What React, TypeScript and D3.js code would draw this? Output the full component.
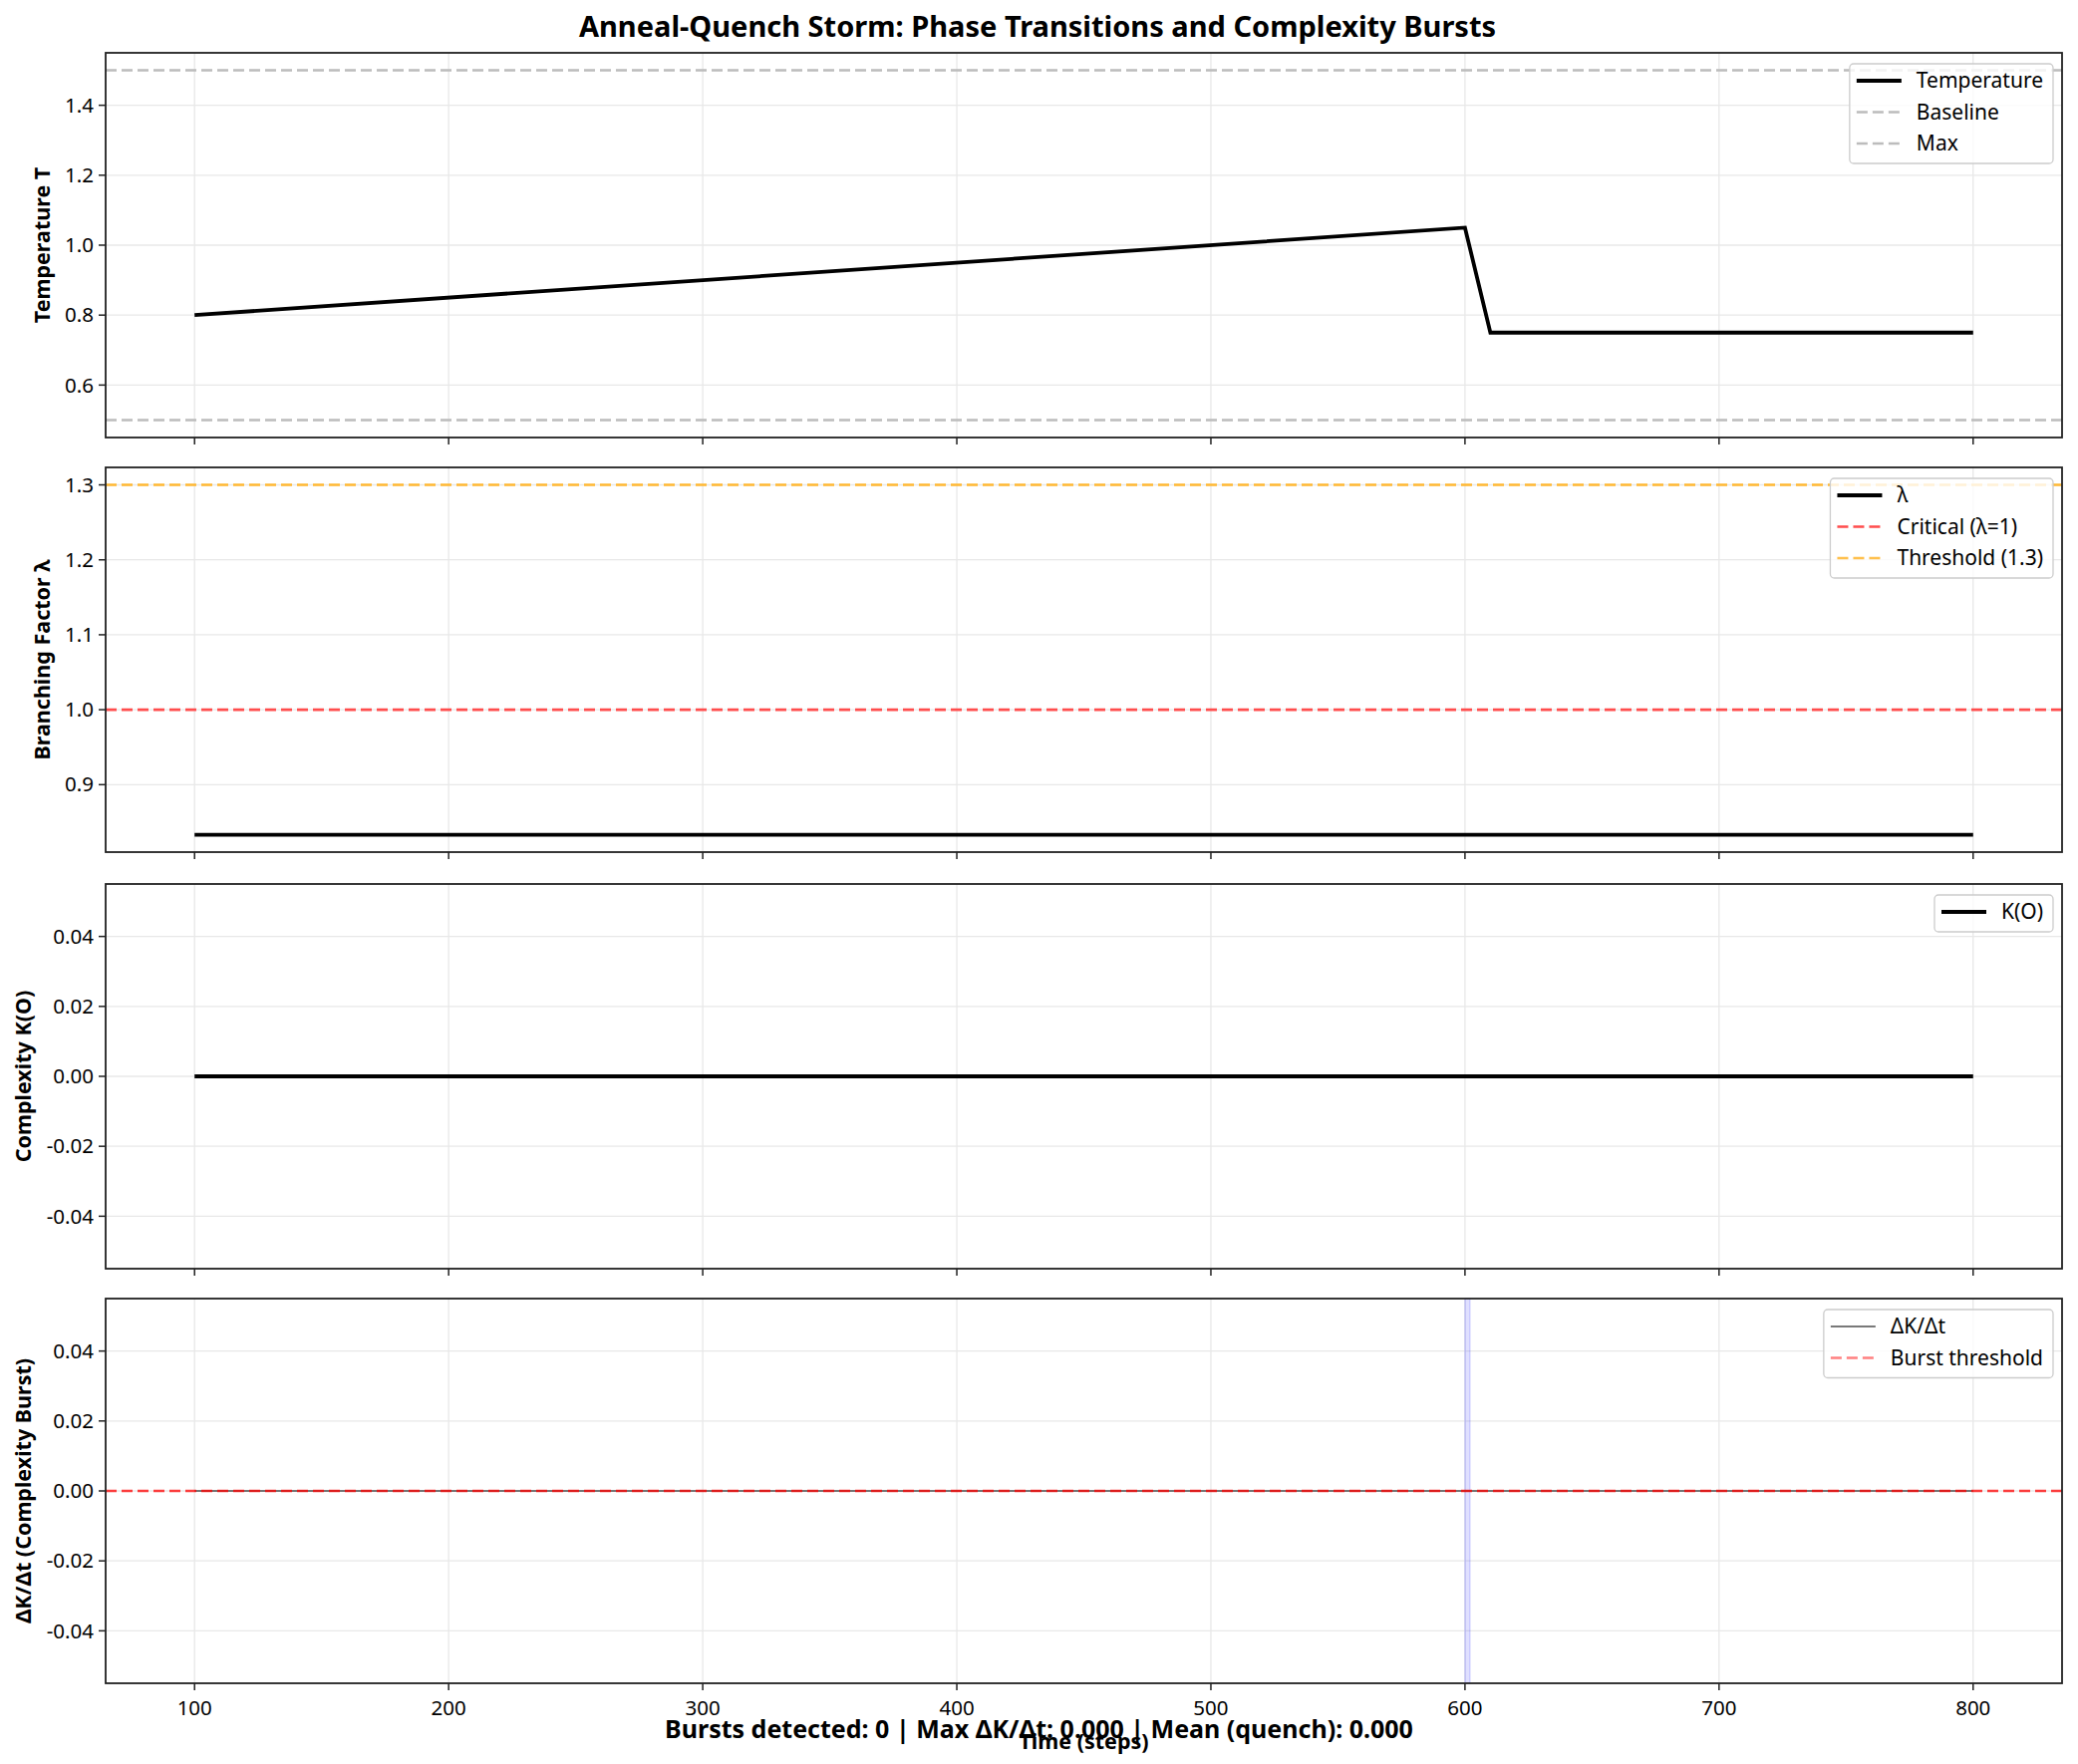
import { useEffect, useRef } from 'react';
import * as d3 from 'd3';

// series data
const tempTime = [100, 600, 610, 800];
const tempValues = [0.8, 1.05, 0.75, 0.75];
const lambdaTime = [100, 800];
const lambdaValues = [0.833, 0.833];
const complexityTime = [100, 800];
const complexityValues = [0, 0];
const burstTime = [100, 800];
const burstValues = [0, 0];

const tempBaseline = 0.5;
const tempMax = 1.5;
const lambdaCritical = 1.0;
const lambdaThreshold = 1.3;
const burstThreshold = 0;
const quenchSpan = [600, 602];

const xTicks = [100, 200, 300, 400, 500, 600, 700, 800];
const tempTicks = [0.6, 0.8, 1.0, 1.2, 1.4];
const lambdaTicks = [0.9, 1.0, 1.1, 1.2, 1.3];
const smallTicks = [-0.04, -0.02, 0, 0.02, 0.04];

const WIDTH = 2085;
const HEIGHT = 1770;
const FONT = '"Noto Sans", "Open Sans", sans-serif';
const TICK_FS = '20.5px';
const LABEL_FS = '21.5px';
const LEGEND_FS = '21px';
const DASH = '11,5';

interface LegendItem {
  label: string;
  color: string;
  width: number;
  dash?: string;
}

interface Panel {
  top: number;
  domain: [number, number];
  ticks: number[];
  fmt: (v: number) => string;
  ylabel: string;
  ylabelX: number;
  legend: LegendItem[];
}

const panels: Panel[] = [
  {
    top: 53,
    domain: [0.45, 1.55],
    ticks: tempTicks,
    fmt: d3.format('.1f'),
    ylabel: 'Temperature T',
    ylabelX: 42,
    legend: [
      { label: 'Temperature', color: '#000', width: 3.8 },
      { label: 'Baseline', color: '#bcbcbc', width: 2.4, dash: DASH },
      { label: 'Max', color: '#bcbcbc', width: 2.4, dash: DASH },
    ],
  },
  {
    top: 469,
    domain: [0.81, 1.3233],
    ticks: lambdaTicks,
    fmt: d3.format('.1f'),
    ylabel: 'Branching Factor λ',
    ylabelX: 42,
    legend: [
      { label: 'λ', color: '#000', width: 3.8 },
      { label: 'Critical (λ=1)', color: '#ff4d4d', width: 2.4, dash: DASH },
      { label: 'Threshold (1.3)', color: '#ffc04d', width: 2.4, dash: DASH },
    ],
  },
  {
    top: 887,
    domain: [-0.055, 0.055],
    ticks: smallTicks,
    fmt: d3.format('.2f'),
    ylabel: 'Complexity K(O)',
    ylabelX: 23,
    legend: [{ label: 'K(O)', color: '#000', width: 3.8 }],
  },
  {
    top: 1303,
    domain: [-0.055, 0.055],
    ticks: smallTicks,
    fmt: d3.format('.2f'),
    ylabel: 'ΔK/Δt (Complexity Burst)',
    ylabelX: 23,
    legend: [
      { label: 'ΔK/Δt', color: '#4d4d4d', width: 1.4 },
      { label: 'Burst threshold', color: '#ff8080', width: 2.4, dash: DASH },
    ],
  },
];

const LEFT = 106;
const RIGHT = 2069;
const PANEL_H = 386;

export default function App() {
  const svgRef = useRef<SVGSVGElement>(null);

  useEffect(() => {
    if (!svgRef.current) return;
    const svg = d3.select(svgRef.current);
    svg.selectAll('*').remove();

    svg.append('rect').attr('width', WIDTH).attr('height', HEIGHT).attr('fill', '#fff');

    const x = d3.scaleLinear().domain([65, 835]).range([LEFT, RIGHT]);

    // Title
    svg
      .append('text')
      .attr('x', 1041)
      .attr('y', 37)
      .attr('text-anchor', 'middle')
      .attr('font-family', FONT)
      .attr('font-weight', 'bold')
      .attr('font-size', '29px')
      .text('Anneal-Quench Storm: Phase Transitions and Complexity Bursts');

    panels.forEach((p, i) => {
      const y = d3.scaleLinear().domain(p.domain).range([p.top + PANEL_H, p.top]);
      const g = svg.append('g');

      // grid
      g.selectAll('line.gx')
        .data(xTicks)
        .enter()
        .append('line')
        .attr('x1', (d) => x(d))
        .attr('x2', (d) => x(d))
        .attr('y1', p.top)
        .attr('y2', p.top + PANEL_H)
        .attr('stroke', '#e8e8e8')
        .attr('stroke-width', 1.3);
      g.selectAll('line.gy')
        .data(p.ticks)
        .enter()
        .append('line')
        .attr('x1', LEFT)
        .attr('x2', RIGHT)
        .attr('y1', (d) => y(d))
        .attr('y2', (d) => y(d))
        .attr('stroke', '#e8e8e8')
        .attr('stroke-width', 1.3);

      const line = d3
        .line<[number, number]>()
        .x((d) => x(d[0]))
        .y((d) => y(d[1]));

      const hline = (v: number, color: string, w: number, dash: string) =>
        g
          .append('line')
          .attr('x1', LEFT)
          .attr('x2', RIGHT)
          .attr('y1', y(v))
          .attr('y2', y(v))
          .attr('stroke', color)
          .attr('stroke-width', w)
          .attr('stroke-dasharray', dash);

      if (i === 0) {
        hline(tempBaseline, '#bcbcbc', 2.4, DASH);
        hline(tempMax, '#bcbcbc', 2.4, DASH);
        g.append('path')
          .attr('d', line(tempTime.map((t, k) => [t, tempValues[k]]))!)
          .attr('fill', 'none')
          .attr('stroke', '#000')
          .attr('stroke-width', 3.8)
          .attr('stroke-linejoin', 'miter');
      } else if (i === 1) {
        g.append('path')
          .attr('d', line(lambdaTime.map((t, k) => [t, lambdaValues[k]]))!)
          .attr('fill', 'none')
          .attr('stroke', '#000')
          .attr('stroke-width', 3.8);
        hline(lambdaCritical, '#ff4d4d', 2.6, DASH);
        hline(lambdaThreshold, '#ffb833', 2.6, DASH);
      } else if (i === 2) {
        g.append('path')
          .attr('d', line(complexityTime.map((t, k) => [t, complexityValues[k]]))!)
          .attr('fill', 'none')
          .attr('stroke', '#000')
          .attr('stroke-width', 3.8);
      } else {
        g.append('rect')
          .attr('x', x(quenchSpan[0]))
          .attr('y', p.top)
          .attr('width', x(quenchSpan[1]) - x(quenchSpan[0]))
          .attr('height', PANEL_H)
          .attr('fill', 'rgba(0,0,255,0.12)')
          .attr('stroke', 'rgba(0,0,255,0.15)')
          .attr('stroke-width', 1.3);
        g.append('path')
          .attr('d', line(burstTime.map((t, k) => [t, burstValues[k]]))!)
          .attr('fill', 'none')
          .attr('stroke', '#4d4d4d')
          .attr('stroke-width', 1.4);
        hline(burstThreshold, 'rgba(255,0,0,0.75)', 2.6, DASH);
      }

      // spines
      g.append('rect')
        .attr('x', LEFT)
        .attr('y', p.top)
        .attr('width', RIGHT - LEFT)
        .attr('height', PANEL_H)
        .attr('fill', 'none')
        .attr('stroke', '#222')
        .attr('stroke-width', 1.8);

      // x ticks
      g.selectAll('line.xt')
        .data(xTicks)
        .enter()
        .append('line')
        .attr('x1', (d) => x(d))
        .attr('x2', (d) => x(d))
        .attr('y1', p.top + PANEL_H)
        .attr('y2', p.top + PANEL_H + 7)
        .attr('stroke', '#222')
        .attr('stroke-width', 1.5);

      // y ticks and labels
      g.selectAll('line.yt')
        .data(p.ticks)
        .enter()
        .append('line')
        .attr('x1', LEFT - 7)
        .attr('x2', LEFT)
        .attr('y1', (d) => y(d))
        .attr('y2', (d) => y(d))
        .attr('stroke', '#222')
        .attr('stroke-width', 1.5);
      g.selectAll('text.yl')
        .data(p.ticks)
        .enter()
        .append('text')
        .attr('x', LEFT - 12)
        .attr('y', (d) => y(d))
        .attr('dy', '0.35em')
        .attr('text-anchor', 'end')
        .attr('font-family', FONT)
        .attr('font-size', TICK_FS)
        .attr('fill', '#000')
        .text((d) => p.fmt(d).replace('−', '-'));

      // y label
      g.append('text')
        .attr('transform', `translate(${p.ylabelX},${p.top + PANEL_H / 2}) rotate(-90)`)
        .attr('text-anchor', 'middle')
        .attr('dy', '0.35em')
        .attr('font-family', FONT)
        .attr('font-weight', 'bold')
        .attr('font-size', LABEL_FS)
        .text(p.ylabel);

      // legend
      const lg = svg.append('g');
      const box = lg
        .append('rect')
        .attr('fill', 'rgba(255,255,255,0.8)')
        .attr('stroke', '#cccccc')
        .attr('stroke-width', 1.3)
        .attr('rx', 4);
      let maxW = 0;
      const rowY = (k: number) => 17 + k * 31.5;
      const texts = p.legend.map((item, k) => {
        const t = lg
          .append('text')
          .attr('y', rowY(k))
          .attr('dy', '0.35em')
          .attr('font-family', FONT)
          .attr('font-size', LEGEND_FS)
          .text(item.label);
        maxW = Math.max(maxW, (t.node() as SVGTextElement).getComputedTextLength());
        return t;
      });
      const boxW = 67 + maxW + 10;
      const boxH = 37 + (p.legend.length - 1) * 31.5;
      const bx = RIGHT - 9 - boxW;
      const by = p.top + 11;
      lg.attr('transform', `translate(${bx},${by})`);
      box.attr('width', boxW).attr('height', boxH);
      texts.forEach((t) => t.attr('x', 67));
      p.legend.forEach((item, k) => {
        lg.append('line')
          .attr('x1', 7)
          .attr('x2', 52)
          .attr('y1', rowY(k))
          .attr('y2', rowY(k))
          .attr('stroke', item.color)
          .attr('stroke-width', item.width)
          .attr('stroke-dasharray', item.dash ?? null);
      });

      // x tick labels on bottom panel only
      if (i === panels.length - 1) {
        g.selectAll('text.xl')
          .data(xTicks)
          .enter()
          .append('text')
          .attr('x', (d) => x(d))
          .attr('y', p.top + PANEL_H + 32)
          .attr('text-anchor', 'middle')
          .attr('font-family', FONT)
          .attr('font-size', TICK_FS)
          .text((d) => String(d));
      }
    });

    // x label
    svg
      .append('text')
      .attr('x', (LEFT + RIGHT) / 2)
      .attr('y', 1755)
      .attr('text-anchor', 'middle')
      .attr('font-family', FONT)
      .attr('font-weight', 'bold')
      .attr('font-size', LABEL_FS)
      .text('Time (steps)');

    // summary footer
    svg
      .append('text')
      .attr('x', WIDTH / 2)
      .attr('y', 1744)
      .attr('text-anchor', 'middle')
      .attr('font-family', FONT)
      .attr('font-weight', 'bold')
      .attr('font-size', '25px')
      .text('Bursts detected: 0 | Max ΔK/Δt: 0.000 | Mean (quench): 0.000');
  }, []);

  return (
    <svg
      ref={svgRef}
      width={WIDTH}
      height={HEIGHT}
      style={{ position: 'absolute', left: 0, top: 0, display: 'block' }}
      viewBox={`0 0 ${WIDTH} ${HEIGHT}`}
    />
  );
}
